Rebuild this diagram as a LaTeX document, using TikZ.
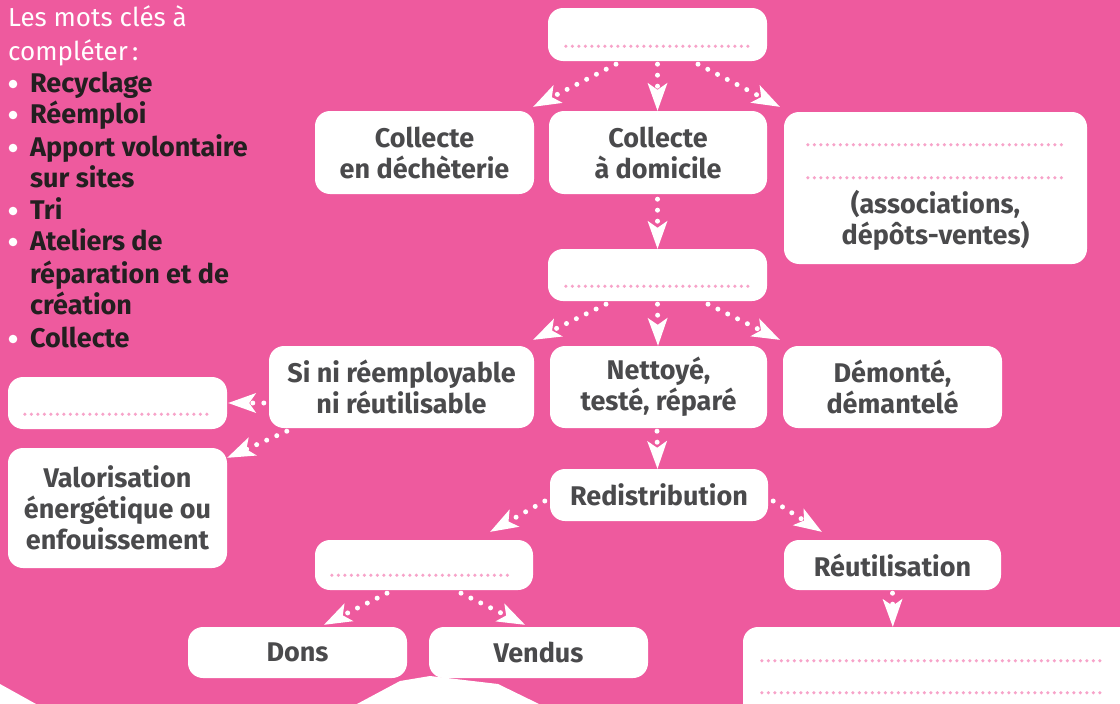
\documentclass[tikz,border=0pt]{standalone}
\usepackage{fontspec}
\setmainfont{Fira Sans}
\usetikzlibrary{arrows.meta}
\definecolor{bgpink}{HTML}{EE5A9E}
\definecolor{txtgray}{HTML}{4A4A4C}
\definecolor{dotpink}{HTML}{F7A3C9}
\definecolor{listdark}{HTML}{231F20}
\begin{document}
\begin{tikzpicture}[x=1pt,y=-1pt,
  box/.style={fill=white, rounded corners=15pt, inner sep=0pt, align=center, text=txtgray, font=\bfseries\fontsize{27}{31}\selectfont},
  txt/.style={inner sep=0pt, align=center, text=txtgray, font=\bfseries\fontsize{27}{31}\selectfont},
  flow/.style={draw=white, line width=5pt, line cap=round, dash pattern=on 0pt off 11pt, -{Stealth[length=28pt,width=20pt,inset=7pt,line width=0pt]}},
  fillline/.style={draw=dotpink, line width=3.5pt, line cap=round, dash pattern=on 0pt off 6.5pt},
  item/.style={anchor=base west, inner sep=0pt, text=listdark, font=\bfseries\fontsize{27}{31}\selectfont},
  title/.style={anchor=base west, inner sep=0pt, text=white, font=\fontsize{26}{31}\selectfont},
  bullet/.style={fill=white},
]
\useasboundingbox (0,0) rectangle (1120,704);
\clip (0,0) rectangle (1120,704);
\fill[bgpink] (0,0) rectangle (1120,704);
% white shapes at the bottom
\fill[white] (0,684) -- (36,704) -- (0,704) -- cycle;
\fill[white] (357,704) -- (400,681) -- (430,676) -- (498,684) -- (539,704) -- cycle;

% keyword list
\node[title] (t1) at (8,27) {Les mots clés à};
\node[title] (t2) at (8,60) {compléter\,:};
\foreach \n/\y/\t in {k1/92/Recyclage, k2/123/Réemploi, k3/156/Apport volontaire, k4/187/sur sites, k5/219/Tri, k6/250/Ateliers de, k7/283/réparation et de, k8/314/création, k9/347/Collecte}{
  \node[item] (\n) at (30,\y) {\t};
}
\foreach \y in {92,123,156,219,250,347}{
  \fill[bullet] (13,\y-8) circle (4.3);
}

% boxes
\node[box, minimum width=219pt, minimum height=53pt] (top) at (657.5,34.5) {};
\node[box, minimum width=219pt, minimum height=83pt] (dech) at (424.5,152.5) {Collecte\\en déchèterie};
\node[box, minimum width=218pt, minimum height=83pt] (dom) at (658,152.5) {Collecte\\à domicile};
\node[box, minimum width=303pt, minimum height=152pt] (rbox) at (935.5,188) {};
\node[txt] (rtxt) at (935.5,220) {(associations,\\dépôts-ventes)};
\node[box, minimum width=219pt, minimum height=52pt] (tri) at (657.5,275) {};
\node[box, minimum width=265pt, minimum height=82pt] (sini) at (401.5,387) {Si ni réemployable\\ni réutilisable};
\node[box, minimum width=217pt, minimum height=82pt] (net) at (658.5,387) {Nettoyé,\\testé, réparé};
\node[box, minimum width=219pt, minimum height=82pt] (dem) at (892.5,387) {Démonté,\\démantelé};
\node[box, minimum width=219pt, minimum height=52pt] (lbox) at (117.5,403) {};
\node[box, minimum width=219pt, minimum height=120pt] (valo) at (117.5,508) {Valorisation\\énergétique ou\\enfouissement};
\node[box, minimum width=218pt, minimum height=52pt] (redis) at (659,495) {Redistribution};
\node[box, minimum width=218pt, minimum height=50pt] (mbox) at (424,565) {};
\node[box, minimum width=217pt, minimum height=50pt] (reut) at (892.5,565) {Réutilisation};
\node[box, minimum width=219pt, minimum height=51pt] (dons) at (297.5,652.5) {Dons};
\node[box, minimum width=219pt, minimum height=51pt] (vendus) at (538.5,652.5) {Vendus};
\node[box, minimum width=397pt, minimum height=98pt] (brbox) at (941.5,676) {};

% fill-in dotted lines
\draw[fillline] ([xshift=18pt,yshift=15pt]top.south west) -- ([xshift=-18pt,yshift=15pt]top.south east);
\draw[fillline] ([xshift=24pt,yshift=-33pt]rbox.north west) -- ([xshift=-25pt,yshift=-33pt]rbox.north east);
\draw[fillline] ([xshift=24pt,yshift=-66pt]rbox.north west) -- ([xshift=-25pt,yshift=-66pt]rbox.north east);
\draw[fillline] ([xshift=18pt,yshift=15pt]tri.south west) -- ([xshift=-18pt,yshift=15pt]tri.south east);
\draw[fillline] ([xshift=17pt,yshift=15pt]lbox.south west) -- ([xshift=-19pt,yshift=15pt]lbox.south east);
\draw[fillline] ([xshift=17pt,yshift=15pt]mbox.south west) -- ([xshift=-20pt,yshift=15pt]mbox.south east);
\draw[fillline] ([xshift=19pt,yshift=-34pt]brbox.north west) -- ([xshift=363pt,yshift=-34pt]brbox.north west);
\draw[fillline] ([xshift=19pt,yshift=-66pt]brbox.north west) -- ([xshift=363pt,yshift=-66pt]brbox.north west);

% connectors
\draw[flow] ([xshift=-41.5pt,yshift=-3pt]top.south) -- ([xshift=-1pt,yshift=4pt]dech.north east);
\draw[flow] ([yshift=-3pt]top.south) -- ([xshift=-0.5pt]dom.north);
\draw[flow] ([xshift=40.5pt,yshift=-3pt]top.south) -- ([xshift=-4pt,yshift=5pt]rbox.north west);
\draw[flow] ([xshift=-0.5pt,yshift=-5pt]dom.south) -- (tri.north);
\draw[flow] ([xshift=-51.5pt,yshift=-3pt]tri.south) -- ([xshift=-1pt,yshift=6pt]sini.north east);
\draw[flow] ([yshift=-3pt]tri.south) -- ([xshift=-0.5pt]net.north);
\draw[flow] ([xshift=50.5pt,yshift=-3pt]tri.south) -- ([xshift=-3pt,yshift=6pt]dem.north west);
\draw[flow] ([xshift=-5pt,yshift=-16pt]sini.west) -- ([xshift=1pt]lbox.east);
\draw[flow] ([xshift=18pt,yshift=-3pt]sini.south west) -- ([yshift=-10pt]valo.north east);
\draw[flow] ([xshift=-1.5pt,yshift=-3pt]net.south) -- ([xshift=-1.5pt]redis.north);
\draw[flow] ([xshift=-5pt,yshift=-6pt]redis.west) -- ([xshift=-43pt,yshift=8pt]mbox.north east);
\draw[flow] ([xshift=5pt,yshift=-6pt]redis.east) -- ([xshift=38pt,yshift=8pt]reut.north west);
\draw[flow] ([xshift=-37pt,yshift=-3pt]mbox.south) -- ([xshift=26.5pt,yshift=2pt]dons.north);
\draw[flow] ([xshift=37pt,yshift=-3pt]mbox.south) -- ([xshift=-13.5pt,yshift=2pt]vendus.north);
\draw[flow] ([yshift=-3pt]reut.south) -- ([xshift=150pt]brbox.north west);
\end{tikzpicture}
\end{document}
